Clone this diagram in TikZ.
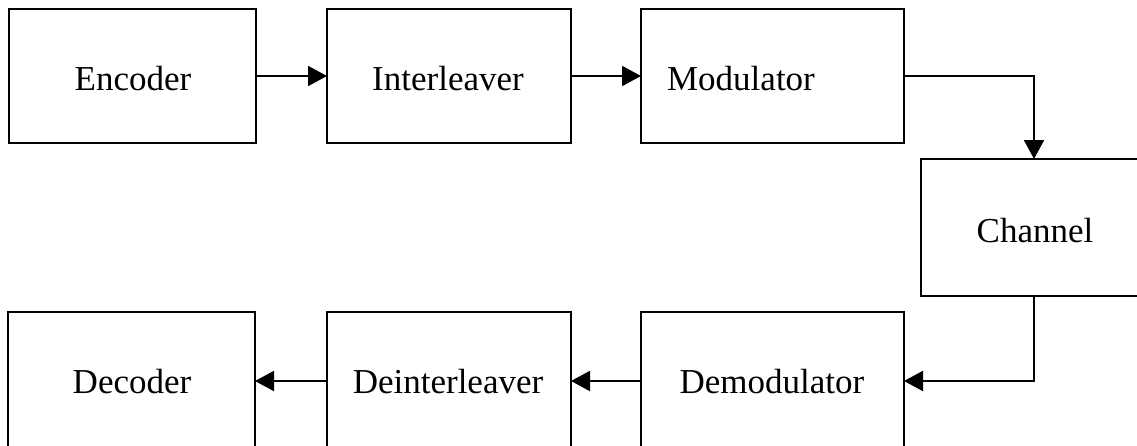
\documentclass[tikz,border=0pt]{standalone}
\usepackage{fontspec}
\setmainfont{Liberation Serif}
\usetikzlibrary{arrows.meta}
\begin{document}
\begin{tikzpicture}[x=1pt,y=-1pt,
  blk/.style={draw=black, line width=1.5pt, minimum width=#1, minimum height=134pt,
    inner sep=0pt, outer sep=0pt, anchor=north west},
  lbl/.style={anchor=base, inner sep=0pt, font=\fontsize{35}{40}\selectfont},
  arr/.style={draw=black, line width=2pt, -{Triangle[length=19pt,width=20pt]}}]
\useasboundingbox (0,0) rectangle (1137,445);
\clip (0,0) rectangle (1137,445);
% boxes
\node[blk=247pt] (enc) at (9,9) {};
\node[blk=244pt] (int) at (327,9) {};
\node[blk=263pt] (mod) at (641,9) {};
\node[blk=226pt, minimum height=137pt] (chan) at (921,159) {};
\node[blk=263pt, minimum height=138pt] (dem) at (641,312) {};
\node[blk=244pt, minimum height=138pt] (dei) at (327,312) {};
\node[blk=247pt, minimum height=138pt] (dec) at (8,312) {};
% labels
\node[lbl] (tenc) at (133,90) {Encoder};
\node[lbl] (tint) at (448,90) {Interleaver};
\node[lbl] (tmod) at (741,90) {Modulator};
\node[lbl] (tchan) at (1035,242) {Channel};
\node[lbl] (tdem) at (772,393) {Demodulator};
\node[lbl] (tdei) at (448,393) {Deinterleaver};
\node[lbl] (tdec) at (132,393) {Decoder};
% connectors
\draw[arr] (enc) -- (int);
\draw[arr] (int) -- (mod);
\draw[arr] (mod.east) -| (chan.north);
\draw[arr] (chan.south) |- (dem.east);
\draw[arr] (dem) -- (dei);
\draw[arr] (dei) -- (dec);
\end{tikzpicture}
\end{document}
